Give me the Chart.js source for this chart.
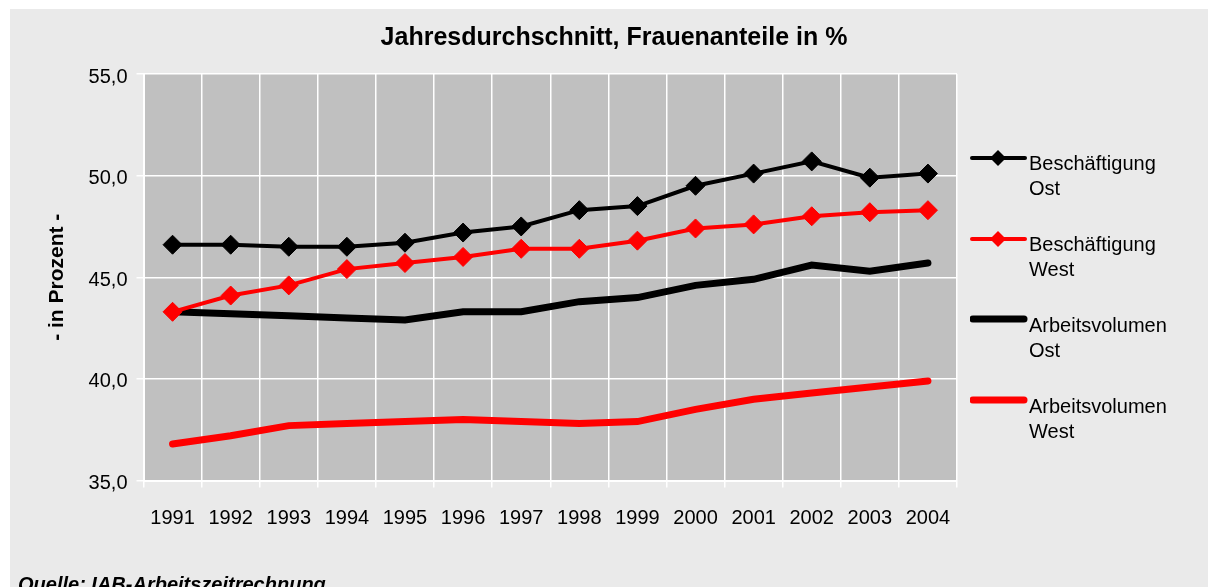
<!DOCTYPE html>
<html>
<head>
<meta charset="utf-8">
<script src="https://cdn.jsdelivr.net/npm/chart.js@4.4.0/dist/chart.umd.min.js"></script>
<style>
  body { margin: 0; width: 1208px; height: 587px; overflow: hidden; background: #fff; font-family: "Liberation Sans", Arial, sans-serif; }
  #box { position: absolute; left: 10px; top: 9px; width: 1198px; height: 578px; background: #eaeaea; }
  #chart { position: absolute; left: 0; top: 0; }
  #titel { position: absolute; left: 0; width: 1228px; top: 13px; text-align: center; font-weight: bold; font-size: 25px; line-height: 28px; color: #000; }
  .leg { position: absolute; left: 960px; width: 240px; height: 60px; }
  .leg svg { position: absolute; left: 0; top: 0; }
  .leg span { position: absolute; left: 1019px; font-size: 20px; line-height: 25px; color: #000; }
  #quelle { position: absolute; left: 8px; top: 565px; font-size: 20px; line-height: 20px; font-weight: bold; font-style: italic; }
</style>
</head>
<body>
<div id="box">
  <canvas id="chart" width="1198" height="578"></canvas>
  <div id="titel" style="left:-10px">Jahresdurchschnitt, Frauenanteile in %</div>
  <div id="legende"></div>
  <div id="quelle">Quelle: IAB-Arbeitszeitrechnung</div>
</div>
<script>
// Daten
var jahre = ['1991', '1992', '1993', '1994', '1995', '1996', '1997', '1998', '1999', '2000', '2001', '2002', '2003', '2004'];
var beschOst = [46.6, 46.6, 46.5, 46.5, 46.7, 47.2, 47.5, 48.3, 48.5, 49.5, 50.1, 50.7, 49.9, 50.1];
var beschWest = [43.3, 44.1, 44.6, 45.4, 45.7, 46.0, 46.4, 46.4, 46.8, 47.4, 47.6, 48.0, 48.2, 48.3];
var avOst = [43.3, 43.2, 43.1, 43.0, 42.9, 43.3, 43.3, 43.8, 44.0, 44.6, 44.9, 45.6, 45.3, 45.7];
var avWest = [36.8, 37.2, 37.7, 37.8, 37.9, 38.0, 37.9, 37.8, 37.9, 38.5, 39.0, 39.3, 39.6, 39.9];
var labels = [['Beschäftigung', 'Ost'], ['Beschäftigung', 'West'], ['Arbeitsvolumen', 'Ost'], ['Arbeitsvolumen', 'West']];

function legende() { //Legende in HTML, zweizeilig
    var box = document.getElementById('legende');
    var farben = ['#000000', '#ff0000', '#000000', '#ff0000'];
    var tops = [131, 212, 293, 374];
    labels.forEach(function(lab, i) {
        var dick = i >= 2;
        var svg = '<svg width="60" height="30" style="left:0;top:0">' +
            '<line x1="' + (dick ? 3 : 2) + '" y1="' + (dick ? 17 : 18) + '" x2="' + (dick ? 54 : 55) + '" y2="' + (dick ? 17 : 18) + '" stroke="' + farben[i] + '" stroke-width="' + (dick ? 7 : 4) + '" stroke-linecap="round"/>' +
            (dick ? '' : '<polygon points="28,10 36,18 28,26 20,18" fill="' + farben[i] + '"/>') +
            '</svg>';
        var d = document.createElement('div');
        d.className = 'leg';
        d.style.top = tops[i] + 'px';
        d.innerHTML = svg + '<span style="left:59px;top:11px">' + lab[0] + '<br>' + lab[1] + '</span>';
        box.appendChild(d);
    });
}

var hintergrund = { //graue Plotflaeche
    id: 'hintergrund',
    beforeDraw: function(chart) {
        var a = chart.chartArea;
        var ctx = chart.ctx;
        ctx.save();
        ctx.fillStyle = '#c0c0c0';
        ctx.fillRect(a.left, a.top, a.right - a.left, a.bottom - a.top);
        ctx.restore();
    }
};

function afficherGraphique() {
    var ctx = document.getElementById('chart').getContext('2d');
    Chart.defaults.font.family = '"Liberation Sans", Arial, sans-serif';
    Chart.defaults.color = '#000';

    var graphique = new Chart(ctx, {
        type: 'line',
        data: {
            labels: jahre,
            datasets: [{
                label: labels[0].join(' '),
                data: beschOst,
                borderColor: '#000000',
                backgroundColor: '#000000',
                borderWidth: 4,
                pointStyle: 'rectRot',
                pointRadius: 9.5,
                pointHoverRadius: 9.5,
                pointBorderWidth: 1
            }, {
                label: labels[1].join(' '),
                data: beschWest,
                borderColor: '#ff0000',
                backgroundColor: '#ff0000',
                borderWidth: 4,
                pointStyle: 'rectRot',
                pointRadius: 9.5,
                pointHoverRadius: 9.5,
                pointBorderWidth: 1
            }, {
                label: labels[2].join(' '),
                data: avOst,
                borderColor: '#000000',
                backgroundColor: '#000000',
                borderWidth: 7,
                borderCapStyle: 'round',
                pointRadius: 0
            }, {
                label: labels[3].join(' '),
                data: avWest,
                borderColor: '#ff0000',
                backgroundColor: '#ff0000',
                borderWidth: 7,
                borderCapStyle: 'round',
                pointRadius: 0
            }]
        },
        options: {
            responsive: false,
            animation: false,
            layout: { padding: { left: 0, top: 65, right: 251, bottom: 0 } },
            plugins: {
                legend: { display: false },
                title: { display: false },
                tooltip: { enabled: false }
            },
            elements: { line: { tension: 0 } },
            scales: {
                x: {
                    offset: true,
                    grid: { offset: true, color: '#ffffff', lineWidth: 1.5, tickLength: 7 },
                    border: { color: '#ffffff', width: 2 },
                    ticks: { font: { size: 20 }, padding: 19, maxRotation: 0, autoSkip: false },
                    afterFit: function(scale) { scale.height = 106.5; }
                },
                y: {
                    min: 35,
                    max: 55,
                    grid: { color: '#ffffff', lineWidth: 1.5, tickLength: 7 },
                    border: { color: '#ffffff', width: 2 },
                    ticks: {
                        stepSize: 5,
                        font: { size: 20 },
                        padding: 9,
                        labelOffset: 3,
                        callback: function(v) { return v.toFixed(1).replace('.', ','); }
                    },
                    title: {
                        display: true,
                        text: '- in Prozent -',
                        font: { size: 21, weight: 'bold' },
                        padding: { top: 35, bottom: 0 }
                    },
                    afterFit: function(scale) { scale.width = 133.5; }
                }
            }
        },
        plugins: [hintergrund]
    });
}

legende();
afficherGraphique();
</script>
</body>
</html>
